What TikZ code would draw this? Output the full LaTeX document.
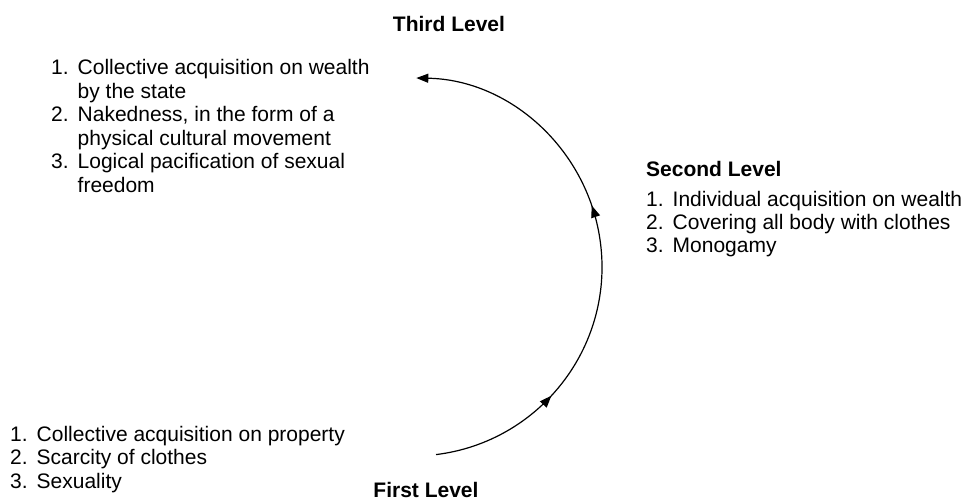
\documentclass[tikz,border=0pt]{standalone}
\usepackage{fontspec}
\setmainfont{Liberation Sans}
\usetikzlibrary{arrows.meta,decorations.markings,calc}
\begin{document}
\begin{tikzpicture}[x=1pt,y=-1pt,
  lvl/.style={font=\fontsize{21}{23.5}\selectfont\bfseries, inner sep=0pt, anchor=base},
  lst/.style={font=\fontsize{21}{23.5}\selectfont, inner sep=0pt, anchor=base west, align=left},
  cyc/.style={line width=1.2pt, -{Triangle[length=12pt,width=9pt]},
    postaction={decorate},
    decoration={markings,
      mark=at position 0.233 with {\arrow{Triangle[length=12pt,width=9pt]}},
      mark=at position 0.593 with {\arrow{Triangle[length=12pt,width=9pt]}}}}
]
\useasboundingbox (0,0) rectangle (967,500);
\node[lvl] (third) at (449,32) {Third Level};
\node[lvl, anchor=base west] (second) at (646,177) {Second Level};
\node[lvl] (first) at (426,497) {First Level};
\node[lst] (l3) at (51,75) {\begin{tabular}[t]{@{}l@{\hspace{9pt}}l@{}}1. & Collective acquisition on wealth\\ & by the state\\ 2. & Nakedness, in the form of a\\ & physical cultural movement\\ 3. & Logical pacification of sexual\\ & freedom\end{tabular}};
\node[lst] (l2) at (646,206) {\begin{tabular}[t]{@{}l@{\hspace{9pt}}l@{}}1. & Individual acquisition on wealth\\ 2. & Covering all body with clothes\\ 3. & Monogamy\end{tabular}};
\node[lst] (l1) at (10,441) {\begin{tabular}[t]{@{}l@{\hspace{9pt}}l@{}}1. & Collective acquisition on property\\ 2. & Scarcity of clothes\\ 3. & Sexuality\end{tabular}};
\coordinate (c) at (413,267);
\coordinate (s) at ($(c)+(83:189)$);
\draw[cyc] (s) arc[start angle=83, end angle=-89, radius=189];
\end{tikzpicture}
\end{document}
